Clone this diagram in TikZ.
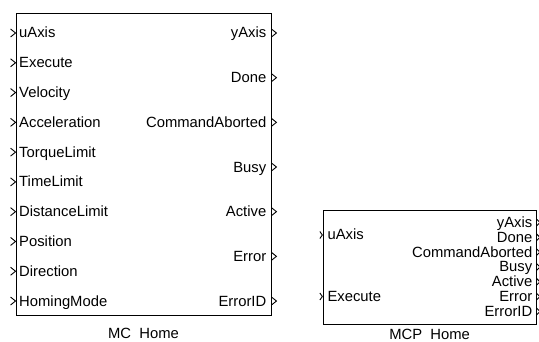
\documentclass[tikz,border=0pt]{standalone}
\usepackage{fontspec}
\setmainfont{Liberation Sans}
\begin{document}
\begin{tikzpicture}[x=1pt,y=-1pt,
  blk/.style={draw, line width=0.9pt, inner sep=0pt, fill=white},
  chev/.style={line width=0.9pt, line join=miter},
  lbl/.style={inner sep=0pt, font=\fontsize{14.8}{16}\selectfont},
  inl/.style={lbl, anchor=base west},
  outl/.style={lbl, anchor=base east},
  capl/.style={lbl, anchor=base}]
\useasboundingbox (0,0) rectangle (539,342);
% --- MC Home block
\node[blk, minimum width=255pt, minimum height=302pt] (mc) at (143.5,164) {};
\foreach \t [count=\i from 0] in {uAxis,Execute,Velocity,Acceleration,TorqueLimit,TimeLimit,DistanceLimit,Position,Direction,HomingMode}{
  \pgfmathsetmacro{\yy}{33+29.78*\i}
  \coordinate (mcin\i) at (mc.west |- 0,\yy);
  \draw[chev] ([shift={(-5,-4)}]mcin\i) -- (mcin\i) -- ([shift={(-5,4)}]mcin\i);
  \node[inl] (mcinl\i) at ([shift={(3.5,5)}]mcin\i) {\t};
}
\foreach \t [count=\i from 0] in {yAxis,Done,CommandAborted,Busy,Active,Error,ErrorID}{
  \pgfmathsetmacro{\yy}{33+44.67*\i}
  \coordinate (mcout\i) at (mc.east |- 0,\yy);
  \draw[chev] ([shift={(0,-4)}]mcout\i) -- ([shift={(5,0)}]mcout\i) -- ([shift={(0,4)}]mcout\i);
  \node[outl] (mcoutl\i) at ([shift={(-5,5)}]mcout\i) {\t};
}
\node[capl] (mccap) at (143.5,338) {MC\ \ Home};
% --- MCP Home block
\node[blk, minimum width=212.7pt, minimum height=114pt] (mcp) at (429.65,267) {};
\foreach \t/\yy [count=\i from 0] in {uAxis/235,Execute/296.5}{
  \coordinate (mcpin\i) at (mcp.west |- 0,\yy);
  \draw[chev] ([shift={(-3,-3.5)}]mcpin\i) -- ([shift={(-0.5,0)}]mcpin\i) -- ([shift={(-3,3.5)}]mcpin\i);
  \node[inl] (mcpinl\i) at ([shift={(4.5,5)}]mcpin\i) {\t};
}
\foreach \t [count=\i from 0] in {yAxis,Done,CommandAborted,Busy,Active,Error,ErrorID}{
  \pgfmathsetmacro{\yy}{222.5+14.83*\i}
  \coordinate (mcpout\i) at (mcp.east |- 0,\yy);
  \draw[chev] ([shift={(0,-3.5)}]mcpout\i) -- ([shift={(3.5,0)}]mcpout\i) -- ([shift={(0,3.5)}]mcpout\i);
  \node[outl] (mcpoutl\i) at ([shift={(-4,5)}]mcpout\i) {\t};
}
\node[capl] (mcpcap) at (429.65,339.5) {MCP\ \ Home};
\end{tikzpicture}
\end{document}
